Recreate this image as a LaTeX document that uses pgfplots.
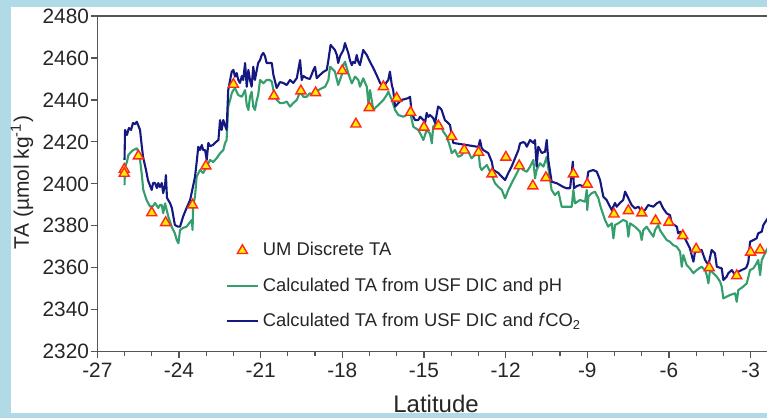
\documentclass[border=0pt]{standalone}
\usepackage{pgfplots}
\pgfplotsset{compat=1.18}
\usepackage{fontspec}
\setmainfont{Liberation Sans}
\definecolor{bluel}{RGB}{22,24,130}
\definecolor{greenl}{RGB}{52,158,108}
\definecolor{tri}{RGB}{255,40,30}
\definecolor{triy}{RGB}{255,235,0}
\definecolor{bord}{RGB}{176,218,230}
\definecolor{axc}{RGB}{85,85,85}
\pgfplotsset{
  lineimg/.style={legend image code/.code={\draw[##1] (0pt,0pt) -- (15.35pt,0pt);}},
  markimg/.style={legend image code/.code={\draw[##1] plot coordinates {(7.65pt,0pt)};}},
}
\begin{document}
\begin{tikzpicture}
\useasboundingbox (0,0) rectangle (383.5pt,209pt);
\clip (0,0) rectangle (383.5pt,209pt);
\fill[bord] (0,0) rectangle (383.5pt,209pt);
\fill[white] (5.35pt,2.65pt) rectangle (383.5pt,205.65pt);
\begin{axis}[
  at={(48.65pt,33.15pt)}, anchor=south west,
  scale only axis, width=336.17pt, height=167.85pt,
  xmin=-27, xmax=-2.3, ymin=2320, ymax=2480,
  xtick={-27,-24,...,-3}, ytick={2320,2340,...,2480},
  minor x tick num=2,
  xtick pos=left, ytick pos=left,
  tick align=outside,
  major tick length=3pt, minor tick length=2pt,
  axis line style={axc, line width=0.75pt},
  every tick/.style={axc, line width=0.6pt},
  tick label style={font=\fontsize{10.4}{12}\selectfont, text=black!85},
  yticklabel style={inner sep=1pt},
  xticklabel style={inner sep=2.5pt},
  /pgf/number format/assume math mode=true,
  /pgf/number format/set thousands separator={},
  xlabel={Latitude},
  ylabel={TA (µmol kg\textsuperscript{-1})},
  xlabel style={font=\fontsize{12}{14}\selectfont, text=black!85, at={(axis description cs:0.5038,-0.1826)}, anchor=base},
  ylabel style={font=\fontsize{10.5}{13}\selectfont, text=black!85, at={(axis description cs:-0.112,0.504)}, anchor=center},
  legend style={draw=none, fill=none, inner sep=0pt, outer sep=0pt,
    at={(axis cs:-22.27,2372.1)}, anchor=north west,
    font=\fontsize{9.2}{11}\selectfont, text=black!85, row sep=9.5pt,
    nodes={inner sep=0pt},
    /tikz/every odd column/.append style={column sep=2pt}},
  legend cell align=left,
  lineimg,
  clip marker paths=true,
]
\addplot[greenl, line width=1.05pt, line join=round, forget plot] table {
-26.00 2399.4
-25.98 2408.2
-25.91 2410.4
-25.86 2413.7
-25.76 2415.2
-25.68 2416.1
-25.55 2416.9
-25.49 2415.2
-25.43 2411.4
-25.37 2405.0
-25.31 2397.1
-25.19 2392.3
-25.06 2389.1
-24.95 2389.4
-24.88 2390.9
-24.76 2388.5
-24.70 2389.9
-24.63 2389.9
-24.58 2386.0
-24.51 2390.7
-24.45 2387.5
-24.39 2384.3
-24.27 2379.6
-24.15 2376.4
-24.08 2373.2
-24.02 2371.7
-23.96 2378.0
-23.85 2379.0
-23.72 2379.6
-23.59 2381.8
-23.53 2382.8
-23.50 2378.0
-23.48 2389.9
-23.41 2393.9
-23.35 2403.4
-23.23 2406.6
-23.11 2405.2
-22.98 2408.2
-22.86 2411.4
-22.74 2410.4
-22.61 2412.3
-22.49 2414.6
-22.37 2416.1
-22.31 2419.3
-22.25 2420.9
-22.19 2436.8
-22.12 2440.0
-22.06 2443.2
-22.00 2444.7
-21.94 2445.5
-21.82 2442.3
-21.69 2441.5
-21.57 2444.7
-21.51 2437.6
-21.45 2435.2
-21.39 2441.5
-21.33 2443.9
-21.27 2436.8
-21.21 2435.2
-21.14 2440.0
-21.09 2442.3
-21.02 2449.5
-20.90 2447.9
-20.78 2449.5
-20.66 2449.5
-20.59 2448.7
-20.53 2444.7
-20.41 2440.0
-20.29 2438.5
-20.17 2438.5
-20.04 2439.2
-19.92 2436.8
-19.80 2438.5
-19.67 2440.0
-19.55 2443.9
-19.43 2441.5
-19.31 2441.5
-19.19 2443.2
-19.06 2442.3
-18.94 2443.2
-18.88 2444.7
-18.76 2445.5
-18.63 2446.3
-18.51 2449.5
-18.45 2455.8
-18.33 2454.3
-18.27 2453.5
-18.15 2447.1
-18.02 2451.9
-17.96 2456.6
-17.90 2458.2
-17.78 2452.7
-17.65 2447.9
-17.53 2451.1
-17.41 2449.5
-17.35 2446.3
-17.23 2450.3
-17.10 2446.3
-17.04 2438.4
-16.98 2444.7
-16.86 2435.2
-16.74 2436.8
-16.61 2438.4
-16.49 2440.0
-16.37 2442.3
-16.31 2443.9
-16.18 2440.0
-16.06 2435.2
-15.94 2432.8
-15.76 2432.0
-15.63 2432.8
-15.51 2434.4
-15.39 2427.2
-15.21 2425.7
-15.14 2424.1
-15.02 2420.9
-14.90 2425.7
-14.78 2424.1
-14.71 2419.3
-14.66 2427.2
-14.53 2428.9
-14.41 2428.9
-14.29 2424.9
-14.16 2422.5
-14.04 2417.7
-13.98 2414.6
-13.86 2416.1
-13.74 2412.9
-13.61 2413.7
-13.49 2416.1
-13.37 2415.3
-13.25 2412.2
-13.12 2413.7
-13.00 2416.1
-12.94 2408.2
-12.88 2406.6
-12.69 2409.0
-12.51 2404.2
-12.39 2400.3
-12.27 2398.6
-12.14 2397.1
-12.02 2393.1
-11.90 2397.1
-11.78 2400.3
-11.59 2405.0
-11.47 2408.2
-11.35 2406.6
-11.22 2405.8
-11.10 2408.2
-10.98 2411.4
-10.92 2402.6
-10.86 2406.6
-10.74 2409.8
-10.61 2408.2
-10.49 2412.9
-10.43 2407.4
-10.31 2397.1
-10.19 2394.7
-10.06 2396.3
-9.94 2389.1
-9.57 2389.1
-9.51 2397.1
-9.45 2390.7
-9.27 2392.3
-9.08 2391.5
-9.02 2397.1
-9.00 2387.5
-8.96 2393.9
-8.84 2395.5
-8.72 2396.3
-8.59 2393.1
-8.53 2389.9
-8.47 2387.5
-8.35 2382.8
-8.23 2379.6
-8.10 2381.2
-8.04 2374.0
-7.98 2380.4
-7.86 2381.2
-7.68 2382.8
-7.55 2382.0
-7.49 2374.8
-7.43 2381.2
-7.25 2379.6
-7.06 2377.2
-7.00 2373.2
-6.94 2378.0
-6.82 2379.6
-6.70 2377.2
-6.57 2374.8
-6.51 2378.0
-6.39 2380.4
-6.33 2378.0
-6.21 2375.6
-6.08 2373.2
-5.96 2372.4
-5.84 2370.8
-5.71 2370.0
-5.59 2367.7
-5.53 2360.5
-5.47 2366.1
-5.35 2361.3
-5.23 2359.7
-5.10 2357.4
-4.98 2358.9
-4.80 2360.5
-4.67 2358.9
-4.61 2356.5
-4.55 2352.6
-4.49 2358.9
-4.37 2357.4
-4.24 2355.7
-4.12 2353.4
-4.06 2351.0
-4.00 2345.4
-3.76 2347.0
-3.57 2347.8
-3.51 2343.8
-3.45 2349.4
-3.27 2351.0
-3.14 2352.6
-3.08 2355.7
-3.02 2358.9
-2.90 2359.7
-2.78 2362.1
-2.72 2363.7
-2.65 2356.5
-2.59 2363.7
-2.53 2365.3
-2.41 2368.5
-2.29 2370.9
};
\addplot[bluel, line width=1.05pt, line join=round, forget plot] table {
-26.00 2411.4
-25.98 2425.7
-25.91 2423.3
-25.84 2426.6
-25.76 2425.7
-25.69 2429.0
-25.61 2428.5
-25.55 2429.6
-25.50 2428.0
-25.43 2425.7
-25.37 2418.5
-25.32 2412.9
-25.21 2406.6
-25.14 2401.8
-25.06 2399.0
-25.00 2397.1
-24.95 2400.4
-24.88 2400.4
-24.81 2398.0
-24.76 2400.4
-24.70 2398.5
-24.63 2400.4
-24.58 2395.6
-24.51 2399.4
-24.48 2404.2
-24.44 2393.3
-24.33 2390.9
-24.26 2388.5
-24.15 2380.4
-24.04 2379.6
-23.96 2379.6
-23.85 2384.3
-23.72 2388.5
-23.59 2392.3
-23.48 2399.0
-23.41 2403.4
-23.34 2411.4
-23.29 2417.7
-23.23 2416.1
-23.16 2418.5
-23.11 2416.1
-23.04 2416.1
-22.98 2411.4
-22.92 2419.5
-22.86 2418.0
-22.75 2418.5
-22.68 2419.5
-22.55 2420.9
-22.49 2430.4
-22.43 2425.7
-22.37 2430.4
-22.31 2428.0
-22.25 2425.7
-22.19 2444.7
-22.12 2449.5
-22.06 2453.5
-22.00 2454.3
-21.94 2451.1
-21.88 2452.8
-21.82 2449.5
-21.76 2448.1
-21.69 2451.4
-21.64 2449.5
-21.57 2457.6
-21.51 2446.3
-21.45 2454.3
-21.39 2449.5
-21.33 2446.3
-21.27 2455.8
-21.21 2449.5
-21.14 2454.3
-21.09 2457.6
-21.02 2459.0
-20.96 2461.4
-20.90 2462.4
-20.84 2460.9
-20.78 2457.6
-20.72 2457.6
-20.59 2457.6
-20.53 2451.9
-20.41 2445.7
-20.29 2448.5
-20.17 2448.1
-20.04 2447.1
-19.92 2449.5
-19.80 2448.1
-19.67 2450.4
-19.55 2459.0
-19.49 2449.5
-19.43 2451.4
-19.31 2450.4
-19.19 2450.0
-19.06 2454.3
-19.00 2455.8
-18.94 2450.4
-18.82 2451.9
-18.70 2453.3
-18.57 2454.3
-18.51 2459.0
-18.43 2466.2
-18.33 2464.7
-18.27 2463.8
-18.20 2461.4
-18.15 2457.6
-18.08 2460.9
-17.96 2463.8
-17.90 2467.1
-17.84 2464.7
-17.78 2462.4
-17.72 2459.0
-17.65 2456.6
-17.60 2458.1
-17.53 2457.6
-17.47 2461.4
-17.41 2458.1
-17.35 2456.6
-17.23 2463.8
-17.10 2461.4
-16.98 2458.1
-16.86 2455.2
-16.74 2451.9
-16.61 2448.1
-16.49 2446.2
-16.37 2448.5
-16.31 2449.5
-16.25 2453.5
-16.18 2447.1
-16.13 2444.7
-16.06 2436.8
-15.94 2438.5
-15.82 2440.0
-15.70 2440.4
-15.57 2440.9
-15.51 2441.5
-15.45 2433.8
-15.33 2430.4
-15.21 2430.4
-15.14 2432.0
-15.02 2430.4
-14.96 2429.0
-14.90 2433.8
-14.84 2431.9
-14.78 2432.8
-14.66 2431.4
-14.59 2429.0
-14.48 2436.8
-14.41 2436.2
-14.35 2435.2
-14.29 2432.8
-14.23 2430.4
-14.11 2429.0
-14.04 2428.0
-13.98 2423.3
-13.92 2419.5
-13.68 2419.0
-13.43 2418.5
-13.19 2418.0
-13.00 2417.6
-12.94 2420.9
-12.88 2417.1
-12.82 2416.1
-12.64 2414.7
-12.51 2410.6
-12.45 2406.6
-12.27 2405.2
-12.14 2403.4
-12.02 2401.8
-11.90 2405.2
-11.78 2408.2
-11.65 2412.3
-11.53 2416.1
-11.47 2419.3
-11.35 2419.9
-11.29 2419.5
-11.22 2417.7
-11.10 2420.9
-10.98 2419.5
-10.92 2420.9
-10.86 2408.2
-10.80 2417.7
-10.67 2414.7
-10.55 2415.3
-10.49 2420.9
-10.43 2411.4
-10.31 2401.0
-10.12 2400.3
-9.88 2398.5
-9.76 2397.9
-9.63 2397.9
-9.53 2410.6
-9.49 2397.9
-9.38 2399.0
-9.27 2399.4
-9.08 2398.6
-9.02 2401.0
-8.96 2405.8
-8.78 2406.6
-8.65 2405.8
-8.53 2401.8
-8.41 2393.9
-8.29 2392.3
-8.10 2387.5
-7.98 2390.9
-7.92 2389.1
-7.80 2390.9
-7.68 2392.3
-7.61 2396.3
-7.49 2393.1
-7.37 2389.9
-7.25 2388.3
-7.12 2389.1
-7.00 2386.7
-6.88 2387.5
-6.76 2389.9
-6.57 2389.1
-6.45 2390.7
-6.33 2391.5
-6.21 2388.3
-6.08 2385.9
-5.96 2385.1
-5.90 2381.2
-5.71 2379.6
-5.66 2376.4
-5.59 2377.2
-5.47 2375.6
-5.35 2372.4
-5.23 2369.3
-5.10 2362.9
-5.04 2367.7
-4.92 2367.7
-4.80 2368.5
-4.67 2363.7
-4.55 2361.3
-4.43 2368.5
-4.31 2366.9
-4.24 2360.5
-4.06 2359.7
-4.00 2354.2
-3.88 2355.7
-3.82 2357.4
-3.69 2358.9
-3.57 2356.5
-3.45 2358.1
-3.33 2358.9
-3.20 2359.7
-3.14 2360.5
-3.08 2362.9
-3.02 2372.4
-2.90 2373.2
-2.78 2374.0
-2.72 2376.4
-2.59 2377.2
-2.53 2380.4
-2.41 2382.8
-2.29 2385.1
};
\addplot[only marks, mark=triangle*, mark size=2.9pt,
  mark options={draw=tri, fill=triy, line width=0.7pt}, markimg] table {
-26.01 2406.9
-26.01 2405.0
-25.49 2413.3
-25.00 2386.2
-24.49 2381.5
-23.50 2389.9
-23.01 2408.5
-22.00 2447.4
-20.51 2441.9
-19.52 2444.3
-18.98 2443.4
-18.00 2453.9
-17.50 2428.5
-17.01 2436.3
-16.49 2446.3
-16.00 2440.8
-15.49 2434.1
-15.00 2427.0
-14.47 2427.6
-13.98 2422.5
-13.52 2416.1
-12.99 2415.0
-12.50 2404.7
-11.99 2412.7
-11.50 2408.6
-11.00 2399.0
-10.52 2402.9
-9.51 2404.7
-9.00 2399.8
-8.02 2385.6
-7.49 2387.2
-7.00 2386.1
-6.49 2382.4
-6.00 2381.7
-5.49 2375.3
-5.00 2368.9
-4.52 2360.0
-3.51 2356.2
-3.00 2367.4
-2.65 2368.5
};
\addlegendentry{UM Discrete TA}
\addlegendimage{greenl, line width=1.05pt}
\addlegendentry{Calculated TA from USF DIC and pH}
\addlegendimage{bluel, line width=1.05pt}
\addlegendentry{Calculated TA from USF DIC and \textit{f}CO\textsubscript{2}}
\end{axis}
\end{tikzpicture}
\end{document}
